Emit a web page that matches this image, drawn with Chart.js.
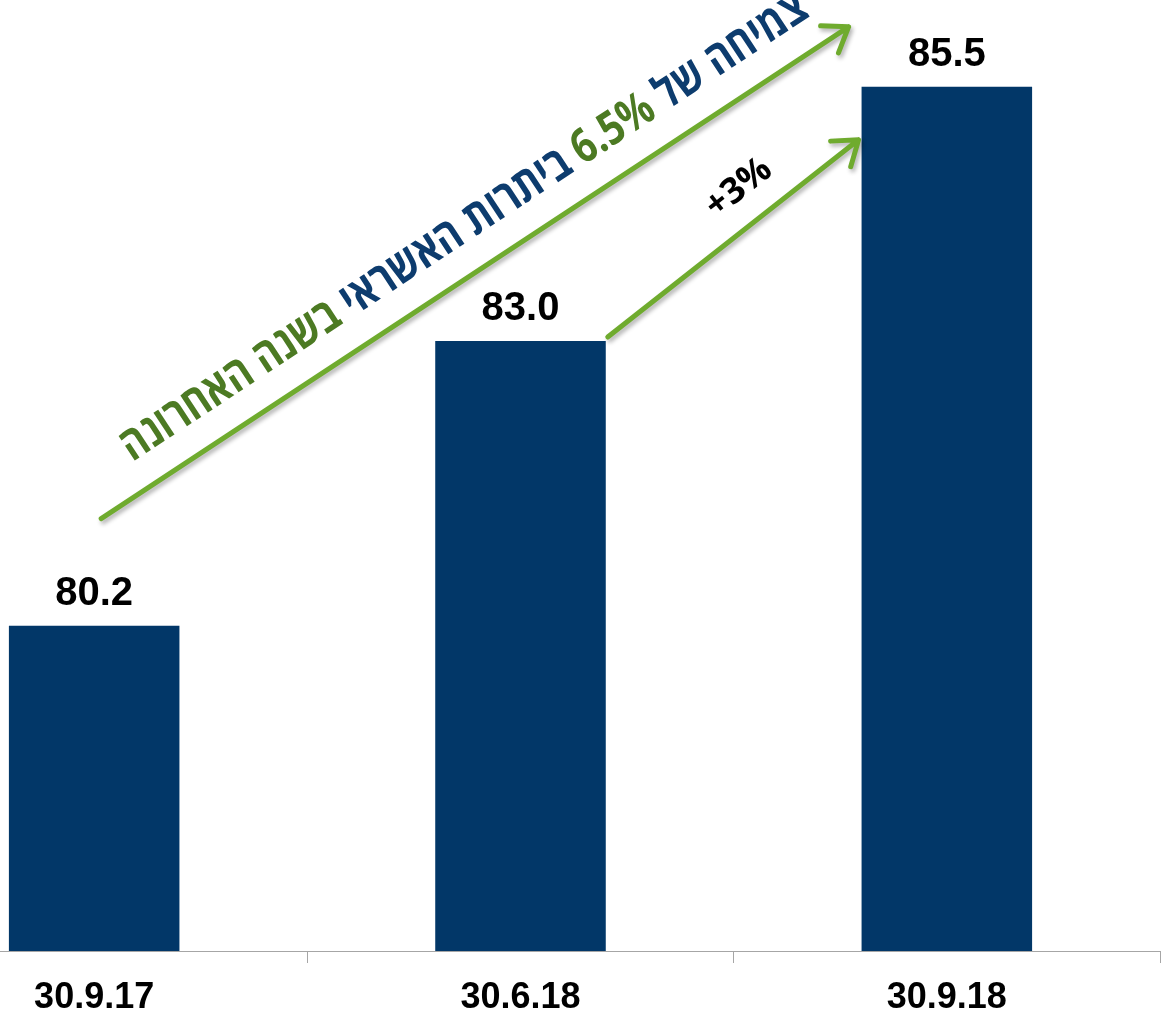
<!DOCTYPE html>
<html>
<head>
<meta charset="utf-8">
<script src="https://cdn.jsdelivr.net/npm/chart.js@4/dist/chart.umd.min.js"></script>
<style>
  html, body { margin: 0; padding: 0; background: #ffffff; overflow: hidden; }
  body { width: 1165px; height: 1011px; position: relative; }
  #wrap { position: absolute; left: -119px; top: 0; width: 1283px; height: 1011px; }
</style>
</head>
<body>
<div id="wrap"><canvas id="c" width="1283" height="1011"></canvas></div>
<script>
// ---- data ----
const categories = ['30.9.17', '30.6.18', '30.9.18'];
const values = [80.2, 83.0, 85.5];
const valueLabels = ['80.2', '83.0', '85.5'];
const yMin = 77;
const yMax = 86;
// growth annotation (logical order, right-to-left reading)
const growthSegments = [
  { text: 'צמיחה של', color: '#0d3c6e', dir: 'rtl' },
  { text: '6.5%', color: '#4c7a23', dir: 'ltr' },
  { text: 'ביתרות האשראי', color: '#0d3c6e', dir: 'rtl' },
  { text: 'בשנה האחרונה', color: '#4c7a23', dir: 'rtl' }
];
const quarterGrowthText = '+3%';

const BAR_COLOR = '#023768';
const ARROW_COLOR = '#6fab2e';

function drawArrow(ctx, x0, y0, x1, y1) {
  const a = Math.atan2(y1 - y0, x1 - x0);
  const head = 28, spread = 0.62;
  ctx.save();
  ctx.strokeStyle = ARROW_COLOR;
  ctx.lineWidth = 5;
  ctx.lineCap = 'round';
  ctx.lineJoin = 'round';
  ctx.shadowColor = 'rgba(0,0,0,0.3)';
  ctx.shadowBlur = 4;
  ctx.shadowOffsetX = 2;
  ctx.shadowOffsetY = 3;
  ctx.beginPath();
  ctx.moveTo(x0, y0);
  ctx.lineTo(x1, y1);
  ctx.moveTo(x1 - head * Math.cos(a - spread), y1 - head * Math.sin(a - spread));
  ctx.lineTo(x1, y1);
  ctx.lineTo(x1 - head * Math.cos(a + spread), y1 - head * Math.sin(a + spread));
  ctx.stroke();
  ctx.restore();
}

const annotate = {
  id: 'annotate',
  afterDatasetsDraw(chart) {
    const ctx = chart.ctx;
    const meta = chart.getDatasetMeta(0);
    const [b0, b1, b2] = meta.data;

    // value labels
    meta.data.forEach((bar, i) => {
      ctx.save();
      ctx.font = 'bold 40px "Liberation Sans", Arial, sans-serif';
      ctx.textAlign = 'center';
      ctx.textBaseline = 'alphabetic';
      ctx.fillStyle = '#000000';
      ctx.fillText(valueLabels[i], bar.x, bar.y - 21);
      ctx.restore();
    });

    // big arrow (year growth)
    const bs = { x: b0.x + 7, y: b0.y - 107 };
    const be = { x: b2.x - b2.width / 2 - 13, y: b2.y - 60 };
    drawArrow(ctx, bs.x, bs.y, be.x, be.y);

    // small arrow (quarter growth)
    const ss = { x: b1.x + b1.width / 2 + 2, y: b1.y - 4 };
    const se = { x: b2.x - b2.width / 2 - 3, y: b2.y + 53 };
    drawArrow(ctx, ss.x, ss.y, se.x, se.y);

    // rotated Hebrew text along big arrow
    const ang = Math.atan2(be.y - bs.y, be.x - bs.x);
    const fam = '"Open Sans", "Liberation Sans", "DejaVu Sans", sans-serif';
    const targetW = 813;
    let fs = 34;
    ctx.save();
    ctx.font = `bold ${fs}px ${fam}`;
    const vis = growthSegments.slice().reverse(); // visual left-to-right
    let space = ctx.measureText(' ').width;
    let total = 0;
    vis.forEach((s, i) => { ctx.direction = s.dir; total += ctx.measureText(s.text).width; if (i) total += space; });
    fs = fs * targetW / total;
    ctx.restore();

    ctx.save();
    ctx.translate(bs.x, bs.y);
    ctx.rotate(ang);
    ctx.translate(0, -30);
    ctx.scale(1, 1.22);
    ctx.font = `bold ${fs}px ${fam}`;
    ctx.textBaseline = 'alphabetic';
    ctx.textAlign = 'left';
    space = ctx.measureText(' ').width;
    let x = 57;
    vis.forEach((s) => {
      ctx.direction = s.dir;
      ctx.fillStyle = s.color;
      ctx.fillText(s.text, x, 0);
      x += ctx.measureText(s.text).width + space;
    });
    ctx.restore();

    // +3% text along small arrow
    const ang2 = Math.atan2(se.y - ss.y, se.x - ss.x);
    ctx.save();
    ctx.translate(ss.x, ss.y);
    ctx.rotate(ang2);
    ctx.font = `bold 36px ${fam}`;
    ctx.textAlign = 'center';
    ctx.textBaseline = 'middle';
    ctx.fillStyle = '#000000';
    ctx.direction = 'ltr';
    ctx.fillText(quarterGrowthText, 195, -36);
    ctx.restore();
  }
};

new Chart(document.getElementById('c'), {
  type: 'bar',
  data: {
    labels: categories,
    datasets: [{
      data: values,
      backgroundColor: BAR_COLOR,
      borderWidth: 0,
      barPercentage: 0.4,
      categoryPercentage: 1.0
    }]
  },
  options: {
    responsive: false,
    animation: false,
    devicePixelRatio: 1,
    layout: { padding: { top: 36, left: 0, right: 4, bottom: 0 } },
    plugins: { legend: { display: false }, tooltip: { enabled: false } },
    scales: {
      x: {
        grid: { display: true, drawOnChartArea: false, drawTicks: true, tickLength: 12, color: '#a6a6a6', lineWidth: 1 },
        border: { display: true, color: '#a6a6a6', width: 1 },
        ticks: {
          color: '#000000',
          font: { family: '"Liberation Sans", Arial, sans-serif', size: 36, weight: 'bold' },
          padding: 13,
          maxRotation: 0,
          autoSkip: false
        },
        afterFit(scale) { scale.height = 60; }
      },
      y: {
        display: false,
        min: yMin,
        max: yMax
      }
    }
  },
  plugins: [annotate]
});
</script>
</body>
</html>
